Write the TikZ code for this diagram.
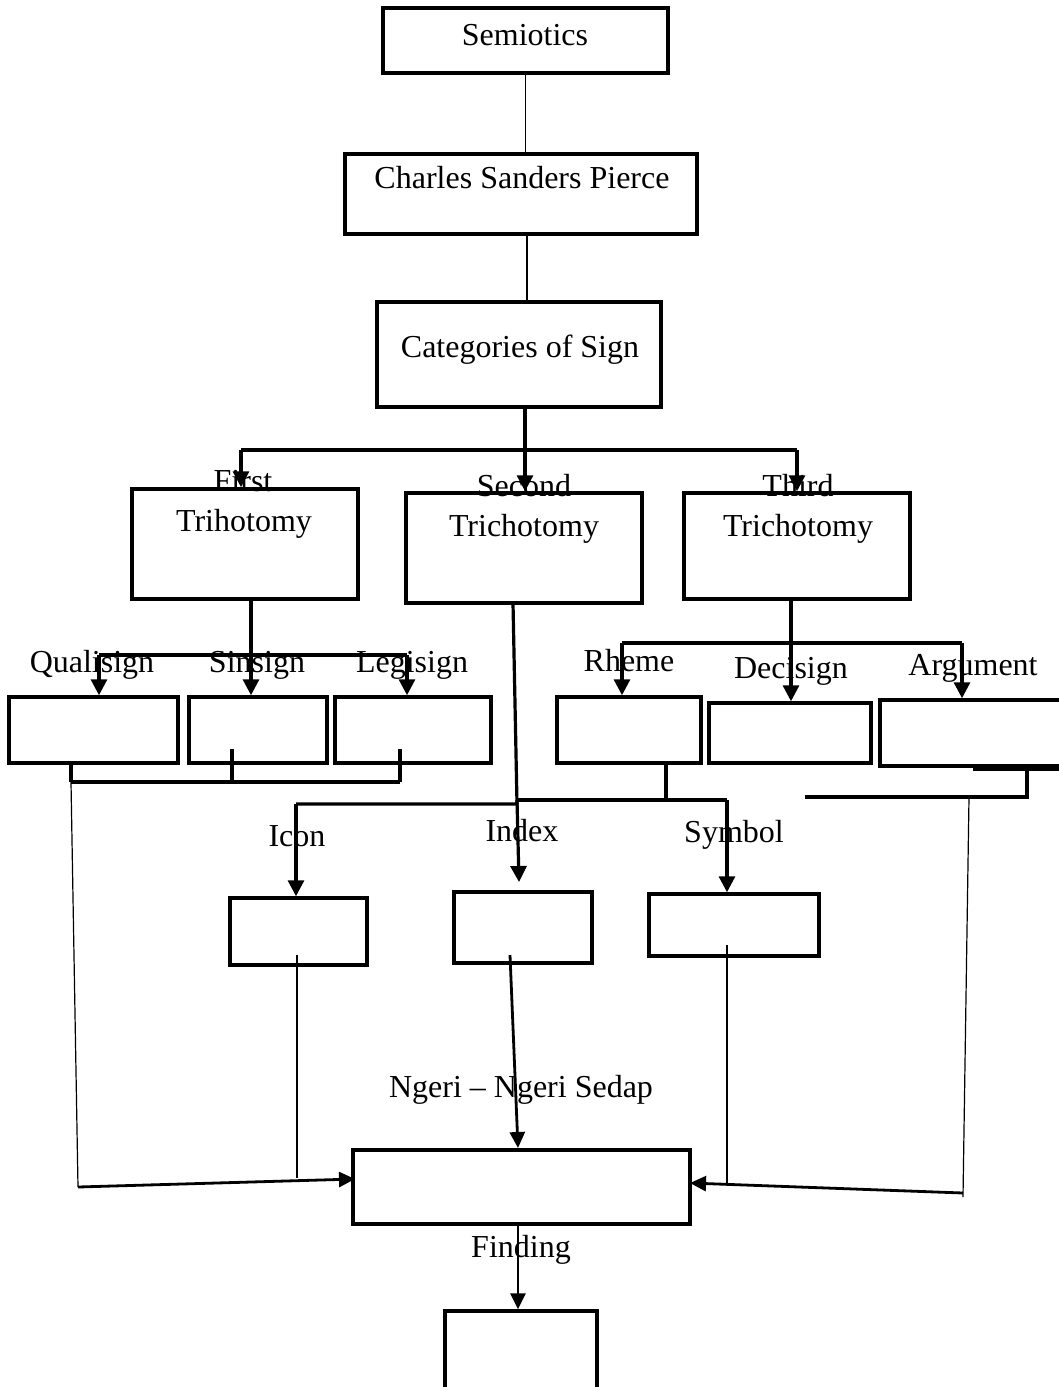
\documentclass[tikz,border=0pt]{standalone}
\usepackage{fontspec}
\setmainfont{Liberation Serif}
\usetikzlibrary{arrows.meta,calc}
\begin{document}
\begin{tikzpicture}[x=1pt,y=-1pt,
  box/.style={draw, line width=3.5pt, inner sep=0pt, anchor=center},
  lbl/.style={inner sep=0pt, anchor=base, font=\fontsize{32}{38}\selectfont},
  conn/.style={line width=3.2pt},
  thinl/.style={line width=1.2pt},
  arr/.style={line width=3.2pt, -{Triangle[length=16pt,width=16pt]}},
  arrb/.style={line width=2.8pt, -{Triangle[length=16pt,width=15pt]}},
]
\useasboundingbox (0,0) rectangle (1059,1387);
\clip (0,0) rectangle (1059,1387);
% boxes
\node[box, minimum width=285pt, minimum height=65pt] (semi) at (525.5,40.5) {};
\node[box, minimum width=352pt, minimum height=80pt] (cps) at (521,194) {};
\node[box, minimum width=284pt, minimum height=105pt] (cat) at (519,354.5) {};
\node[box, minimum width=226pt, minimum height=110pt] (first) at (245,544) {};
\node[box, minimum width=236pt, minimum height=110pt] (second) at (524,548) {};
\node[box, minimum width=226pt, minimum height=106pt] (third) at (797,546) {};
\node[box, minimum width=169pt, minimum height=66pt] (quali) at (93.5,730) {};
\node[box, minimum width=138pt, minimum height=66pt] (sin) at (258,730) {};
\node[box, minimum width=156pt, minimum height=66pt] (legi) at (413,730) {};
\node[box, minimum width=144pt, minimum height=66pt] (rheme) at (629,730) {};
\node[box, minimum width=162pt, minimum height=60pt] (deci) at (790,733) {};
\node[box, minimum width=190pt, minimum height=66pt] (arg) at (975,733) {};
\node[box, minimum width=137pt, minimum height=67pt] (icon) at (298.5,931.5) {};
\node[box, minimum width=138pt, minimum height=71pt] (index) at (523,927.5) {};
\node[box, minimum width=170pt, minimum height=62pt] (symbol) at (734,925) {};
\node[box, minimum width=337pt, minimum height=74pt] (ngeri) at (521.5,1187) {};
\node[box, minimum width=152pt, minimum height=120pt] (find) at (521,1371) {};
% top chain
\coordinate (cc) at (527,234);
\draw[thinl] (semi.south) -- (semi.south |- cps.north);
\draw[line width=2.8pt] (cc |- cps.south) -- (cc |- cat.north);
% categories -> trichotomies
\coordinate (jt) at (525,450);
\coordinate (jtL) at (241,450);
\coordinate (jtR) at (797,450);
\draw[conn] (jtL) -- (jtR);
\draw[arr] (jtL) -- (jtL |- first.north);
\draw[arr] (jtR) -- (jtR |- third.north);
\draw[arr] (jt |- cat.south) -- (jt |- second.north);
% first trichotomy
\coordinate (fa) at (99,655);
\coordinate (fb) at (251,655);
\coordinate (fc) at (407,655);
\draw[conn] (fa) -- (fc);
\draw[arr] (fb |- first.south) -- (fb |- sin.north);
\draw[arr] (fa) -- (fa |- quali.north);
\draw[arr] (fc) -- (fc |- legi.north);
\coordinate (ga) at (71,782);
\coordinate (gb) at (232,782);
\coordinate (gc) at (400,782);
\coordinate (gb0) at (232,749);
\coordinate (gc0) at (400,749);
\draw[conn] (ga) -- (gc);
\draw[conn] (gb0) -- (gb);
\draw[conn] (gc0) -- (gc);
\draw[conn] (ga |- quali.south) -- (ga);
\coordinate (lc) at (78,1187);
\coordinate (nl) at (355,1179);
\draw[thinl] (ga) -- (lc);
\draw[arrb] (lc) -- (nl);
% second trichotomy
\coordinate (sa) at (513,603);
\coordinate (sb) at (517,804);
\coordinate (sc) at (296,804);
\coordinate (sd) at (517,800);
\coordinate (se) at (727,800);
\coordinate (sf) at (666,800);
\draw[conn] (sa) -- (sb) -- (sc);
\draw[arr] (sc) -- (sc |- icon.north);
\draw[conn] (sd) -- (se);
\draw[arr] (se) -- (se |- symbol.north);
\coordinate (si) at (519,882);
\draw[arr] (sd) -- (si);
\draw[conn] (sf |- rheme.south) -- (sf);
% third trichotomy
\coordinate (ta) at (622,643);
\coordinate (tb) at (791,643);
\coordinate (tc) at (962,643);
\draw[conn] (ta) -- (tc);
\draw[arr] (tb |- third.south) -- (tb |- deci.north);
\draw[arr] (ta) -- (ta |- rheme.north);
\draw[arr] (tc) -- (tc |- arg.north);
\coordinate (ra) at (973,769);
\coordinate (rb) at (1059,769);
\coordinate (rc) at (1027,769);
\coordinate (rd) at (1027,797);
\coordinate (re) at (805,797);
\coordinate (rf) at (969,797);
\coordinate (rg) at (963,1197);
\coordinate (rh) at (963,1193);
\coordinate (nr) at (690,1183);
\draw[conn] (ra) -- (rb);
\draw[conn] (rc) -- (rd) -- (re);
\draw[thinl] (rf) -- (rg);
\draw[arrb] (rh) -- (nr);
% sign boxes to ngeri
\coordinate (ia) at (297,955);
\coordinate (ib) at (297,1178);
\draw[thinl] (ia) -- (ib);
\coordinate (xa) at (510,955);
\coordinate (xb) at (518,1148);
\draw[arrb] (xa) -- (xb);
\coordinate (ya) at (727,945);
\coordinate (yb) at (727,1183);
\draw[thinl] (ya) -- (yb);
% finding
\draw[arrb] (ngeri.south -| xb) -- (xb |- find.north);
% labels
\node[lbl] (tsemi) at (525,45) {Semiotics};
\node[lbl] (tcps) at (522,188) {Charles Sanders Pierce};
\node[lbl] (tcat) at (520,357) {Categories of Sign};
\node[lbl] (tfirst) at (243,491) {First};
\node[lbl] (tfirst2) at (244,531) {Trihotomy};
\node[lbl] (tsecond) at (524,496) {Second};
\node[lbl] (tsecond2) at (524,536) {Trichotomy};
\node[lbl] (tthird) at (798,496) {Third};
\node[lbl] (tthird2) at (798,536) {Trichotomy};
\node[lbl] (tquali) at (92,672) {Qualisign};
\node[lbl] (tsin) at (257,672) {Sinsign};
\node[lbl] (tlegi) at (412,672) {Legisign};
\node[lbl] (trheme) at (629,671) {Rheme};
\node[lbl] (tdeci) at (791,678) {Decisign};
\node[lbl] (targ) at (973,675) {Argument};
\node[lbl] (ticon) at (297,846) {Icon};
\node[lbl] (tindex) at (522,841) {Index};
\node[lbl] (tsymbol) at (734,842) {Symbol};
\node[lbl] (tngeri) at (521,1097) {Ngeri – Ngeri Sedap};
\node[lbl] (tfind) at (521,1257) {Finding};
\end{tikzpicture}
\end{document}
